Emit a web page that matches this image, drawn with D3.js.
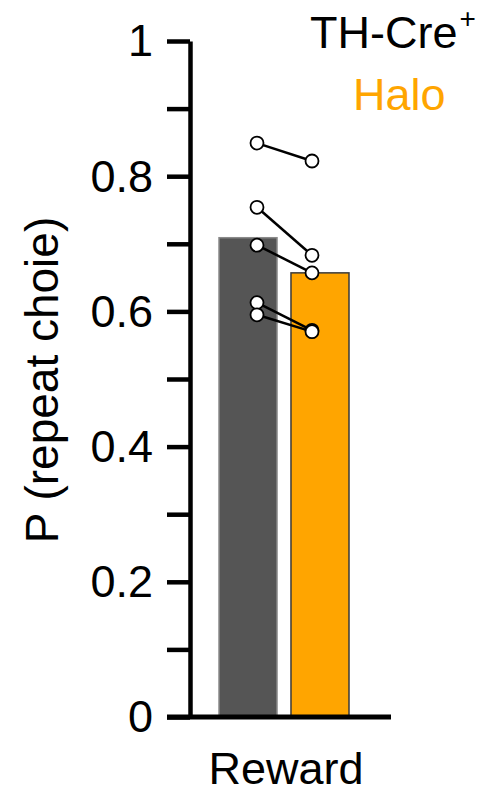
<!DOCTYPE html>
<html>
<head>
<meta charset="utf-8">
<script src="https://cdn.jsdelivr.net/npm/d3@7"></script>
<style>
  html, body { margin: 0; padding: 0; background: #fff; }
  svg { display: block; font-family: "Liberation Sans", Arial, Helvetica, sans-serif; }
</style>
</head>
<body>
<svg id="chart" width="492" height="796"></svg>
<script>
// Conditions and group means
const conditions = ["TH-Cre+", "Halo"];
const barValues = [0.709, 0.657];
const barColors = ["#555555", "#FFA500"];
const barEdges = ["#8a8a8a", "#3a3a3a"];

// Per-animal probabilities (paired across conditions)
const ctrlValues = [0.849, 0.754, 0.698, 0.613, 0.595];
const haloValues = [0.8225, 0.683, 0.657, 0.572, 0.570];

const yTicks = [0, 0.1, 0.2, 0.3, 0.4, 0.5, 0.6, 0.7, 0.8, 0.9, 1];
const yTickLabels = ["0", "", "0.2", "", "0.4", "", "0.6", "", "0.8", "", "1"];
const groupLabel = "Reward";
const yLabel = "P (repeat choie)";

const svg = d3.select("#chart");
const FONT = 45;

const y = d3.scaleLinear().domain([0, 1]).range([717, 41]);
const xBar = d3.scaleBand().domain(conditions).range([219, 349]).paddingInner(0.194).paddingOuter(0);
const xDot = d3.scalePoint().domain(conditions).range([257, 312]);

// Bars
svg.append("g").selectAll("rect")
  .data(conditions)
  .join("rect")
  .attr("x", d => xBar(d))
  .attr("y", (d, i) => y(barValues[i]))
  .attr("width", xBar.bandwidth())
  .attr("height", (d, i) => y(0) - y(barValues[i]))
  .attr("fill", (d, i) => barColors[i])
  .attr("stroke", (d, i) => barEdges[i])
  .attr("stroke-width", 1.5);

// Y axis
const yAxis = d3.axisLeft(y)
  .tickValues(yTicks)
  .tickFormat((d, i) => yTickLabels[i])
  .tickSize(23)
  .tickSizeOuter(0)
  .tickPadding(14);

const gy = svg.append("g").attr("transform", "translate(190,0)").call(yAxis);
gy.select(".domain").attr("stroke", "#000").attr("stroke-width", 4.5);
gy.selectAll(".tick line").attr("stroke", "#000").attr("stroke-width", 4.5);
gy.selectAll(".tick text")
  .attr("fill", "#000")
  .style("font-size", FONT + "px")
  .style("font-family", "'Liberation Sans', Arial, Helvetica, sans-serif")
  .attr("dy", "0.33em");

// X axis baseline
svg.append("line")
  .attr("x1", 167).attr("x2", 391)
  .attr("y1", y(0)).attr("y2", y(0))
  .attr("stroke", "#000").attr("stroke-width", 5);

// Paired lines per animal
const pairs = ctrlValues.map((v, i) => [v, haloValues[i]]);
svg.append("g").selectAll("line")
  .data(pairs)
  .join("line")
  .attr("x1", xDot(conditions[0]))
  .attr("x2", xDot(conditions[1]))
  .attr("y1", d => y(d[0]))
  .attr("y2", d => y(d[1]))
  .attr("stroke", "#000")
  .attr("stroke-width", 2.5);

// Individual points
const dots = [];
ctrlValues.forEach(v => dots.push({ c: conditions[0], v }));
haloValues.forEach(v => dots.push({ c: conditions[1], v }));
svg.append("g").selectAll("circle")
  .data(dots)
  .join("circle")
  .attr("cx", d => xDot(d.c))
  .attr("cy", d => y(d.v))
  .attr("r", 6.5)
  .attr("fill", "#fff")
  .attr("stroke", "#000")
  .attr("stroke-width", 1.8);

// Group label
svg.append("text")
  .attr("x", 286).attr("y", 784)
  .attr("text-anchor", "middle")
  .style("font-size", FONT + "px")
  .attr("fill", "#000")
  .text(groupLabel);

// Y axis title
svg.append("text")
  .attr("transform", "translate(58,380) rotate(-90)")
  .attr("text-anchor", "middle")
  .style("font-size", "46px")
  .attr("fill", "#000")
  .text(yLabel);

// Legend
const leg1 = svg.append("text")
  .attr("x", 310).attr("y", 48)
  .style("font-size", FONT + "px")
  .attr("fill", "#000");
leg1.append("tspan").text("TH-Cre");
leg1.append("tspan")
  .attr("dy", -20)
  .attr("dx", 2)
  .style("font-size", "28px")
  .text("+");

svg.append("text")
  .attr("x", 353).attr("y", 110)
  .style("font-size", FONT + "px")
  .attr("fill", barColors[1])
  .text(conditions[1]);
</script>
</body>
</html>
